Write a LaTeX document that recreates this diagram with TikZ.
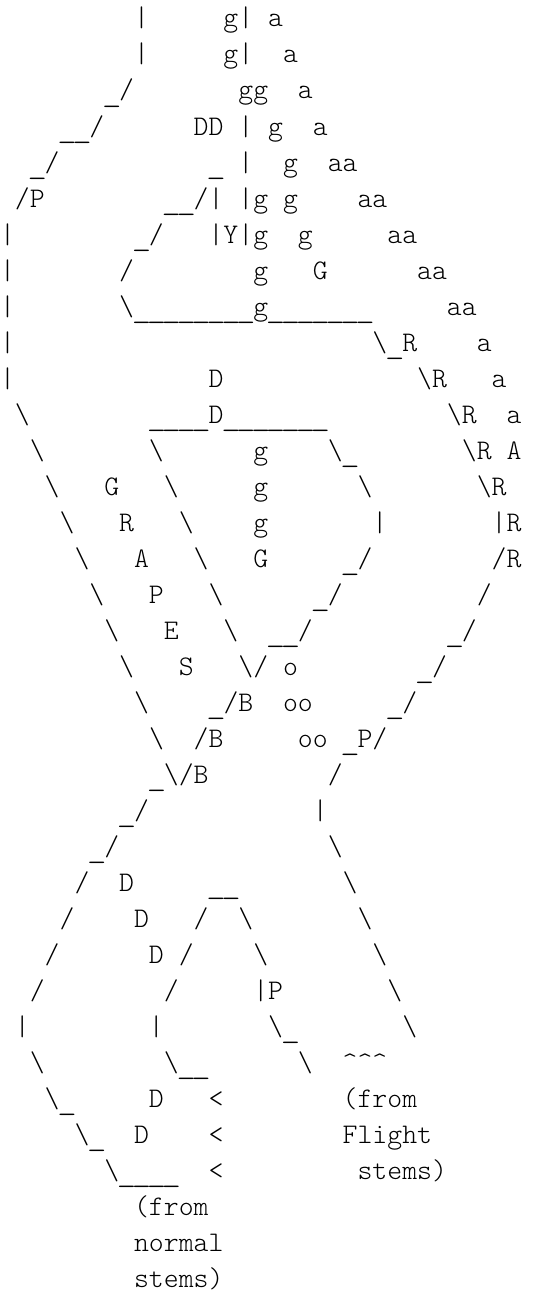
\documentclass[tikz,border=0pt]{standalone}
\usepackage{fontspec}
\usepackage{graphicx}
\usepackage{tikz}
\setmonofont{lmmonolt10-regular.otf}
\newlength\charw
\setlength\charw{14.9pt}
\newcommand\gap[1]{\hspace*{#1\charw}}
\newcommand\bsl{\textbackslash}
\newcommand\us{\makebox[\charw][c]{\raisebox{-3pt}{\scalebox{1.3}[1]{\_}}}}
\newcommand\artfont{\ttfamily\fontsize{28.38pt}{36pt}\selectfont}

\begin{document}
\begin{tikzpicture}[
    x=1pt, y=1pt,
    line/.style={anchor=base west, inner sep=0pt, outer sep=0pt, font=\artfont, text=black}
  ]
    \path[fill=white] (0,0) rectangle (544,-1290);

    \node[line] (row1)  at (-4.75,  -27) {\gap{9}|\gap{5}g|\gap{1}a};
    \node[line] (row2)  at (-4.75,  -63) {\gap{9}|\gap{5}g|\gap{2}a};
    \node[line] (row3)  at (-4.75,  -99) {\gap{7}\us/\gap{7}gg\gap{2}a};
    \node[line] (row4)  at (-4.75, -135) {\gap{4}\us\us/\gap{6}DD\gap{1}|\gap{1}g\gap{2}a};
    \node[line] (row5)  at (-4.75, -171) {\gap{2}\us/\gap{10}\us\gap{1}|\gap{2}g\gap{2}aa};
    \node[line] (row6)  at (-4.75, -207) {\gap{1}/P\gap{8}\us\us/|\gap{1}|g\gap{1}g\gap{4}aa};
    \node[line] (row7)  at (-4.75, -243) {|\gap{8}\us/\gap{3}|Y|g\gap{2}g\gap{5}aa};
    \node[line] (row8)  at (-4.75, -279) {|\gap{7}/\gap{8}g\gap{3}G\gap{6}aa};
    \node[line] (row9)  at (-4.75, -315) {|\gap{7}\bsl\us\us\us\us\us\us\us\us g\us\us\us\us\us\us\us\gap{5}aa};
    \node[line] (row10) at (-4.75, -351) {|\gap{24}\bsl\us R\gap{4}a};
    \node[line] (row11) at (-4.75, -387) {|\gap{13}D\gap{13}\bsl R\gap{3}a};
    \node[line] (row12) at (-4.75, -423) {\gap{1}\bsl\gap{8}\us\us\us\us D\us\us\us\us\us\us\us\gap{8}\bsl R\gap{2}a};
    \node[line] (row13) at (-4.75, -459) {\gap{2}\bsl\gap{7}\bsl\gap{6}g\gap{4}\bsl\us\gap{7}\bsl R\gap{1}A};
    \node[line] (row14) at (-4.75, -495) {\gap{3}\bsl\gap{3}G\gap{3}\bsl\gap{5}g\gap{6}\bsl\gap{7}\bsl R};
    \node[line] (row15) at (-4.75, -531) {\gap{4}\bsl\gap{3}R\gap{3}\bsl\gap{4}g\gap{7}|\gap{7}|R};
    \node[line] (row16) at (-4.75, -567) {\gap{5}\bsl\gap{3}A\gap{3}\bsl\gap{3}G\gap{5}\us/\gap{8}/R};
    \node[line] (row17) at (-4.75, -603) {\gap{6}\bsl\gap{3}P\gap{3}\bsl\gap{6}\us/\gap{9}/};
    \node[line] (row18) at (-4.75, -639) {\gap{7}\bsl\gap{3}E\gap{3}\bsl\gap{2}\us\us/\gap{9}\us/};
    \node[line] (row19) at (-4.75, -675) {\gap{8}\bsl\gap{3}S\gap{3}\bsl/\gap{1}o\gap{8}\us/};
    \node[line] (row20) at (-4.75, -711) {\gap{9}\bsl\gap{4}\us/B\gap{2}oo\gap{5}\us/};
    \node[line] (row21) at (-4.75, -747) {\gap{10}\bsl\gap{2}/B\gap{5}oo\gap{1}\us P/};
    \node[line] (row22) at (-4.75, -783) {\gap{10}\us\bsl/B\gap{8}/};
    \node[line] (row23) at (-4.75, -819) {\gap{8}\us/\gap{11}|};
    \node[line] (row24) at (-4.75, -855) {\gap{6}\us/\gap{14}\bsl};
    \node[line] (row25) at (-4.75, -891) {\gap{5}/\gap{2}D\gap{5}\us\us\gap{7}\bsl};
    \node[line] (row26) at (-4.75, -927) {\gap{4}/\gap{4}D\gap{3}/\gap{2}\bsl\gap{7}\bsl};
    \node[line] (row27) at (-4.75, -963) {\gap{3}/\gap{6}D\gap{1}/\gap{4}\bsl\gap{7}\bsl};
    \node[line] (row28) at (-4.75, -999) {\gap{2}/\gap{8}/\gap{5}|P\gap{7}\bsl};
    \node[line] (row29) at (-4.75,-1035) {\gap{1}|\gap{8}|\gap{7}\bsl\us\gap{7}\bsl};
    \node[line] (row30) at (-4.75,-1071) {\gap{2}\bsl\gap{8}\bsl\us\us\gap{6}\bsl\gap{2}\textasciicircum\textasciicircum\textasciicircum};
    \node[line] (row31) at (-4.75,-1107) {\gap{3}\bsl\us\gap{5}D\gap{3}<\gap{8}(from};
    \node[line] (row32) at (-4.75,-1143) {\gap{5}\bsl\us\gap{2}D\gap{4}<\gap{8}Flight};
    \node[line] (row33) at (-4.75,-1179) {\gap{7}\bsl\us\us\us\us\gap{2}<\gap{9}stems)};
    \node[line] (row34) at (-4.75,-1215) {\gap{9}(from};
    \node[line] (row35) at (-4.75,-1251) {\gap{9}normal};
    \node[line] (row36) at (-4.75,-1287) {\gap{9}stems)};
  \end{tikzpicture}
\end{document}
